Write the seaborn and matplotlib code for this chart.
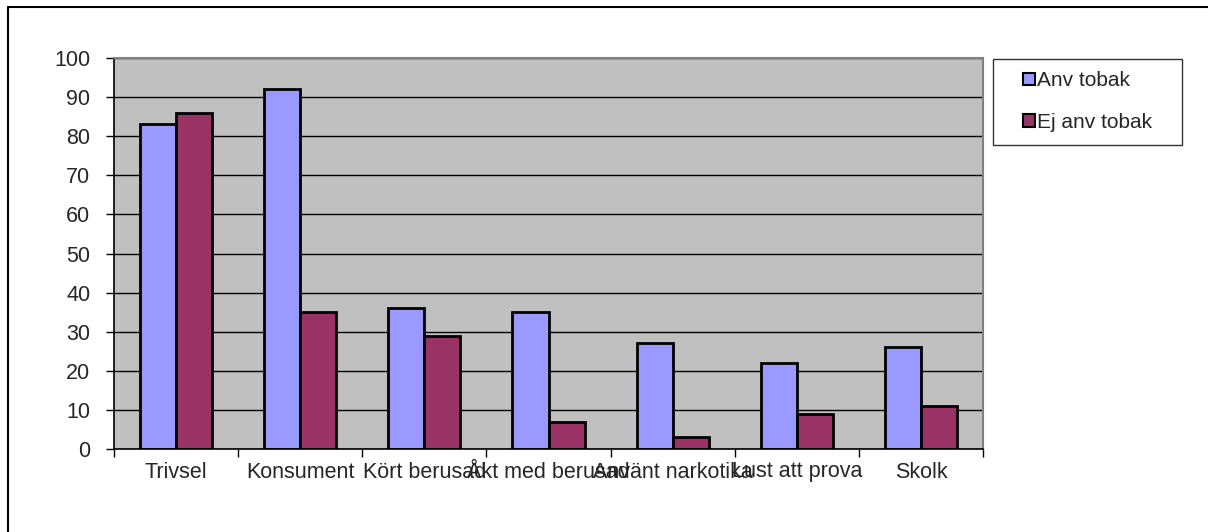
import matplotlib
matplotlib.use("Agg")
import matplotlib.pyplot as plt
import seaborn as sns
import pandas as pd
from matplotlib.lines import Line2D
from matplotlib.patches import Patch, Rectangle
from matplotlib.legend_handler import HandlerPatch

categories = ["Trivsel", "Konsument", "Kört berusad", "Åkt med berusad",
              "Använt narkotika", "Lust att prova", "Skolk"]
anv_tobak = [83, 92, 36, 35, 27, 22, 26]
ej_anv_tobak = [86, 35, 29, 7, 3, 9, 11]
series = ["Anv tobak", "Ej anv tobak"]
colors = ["#9999FF", "#993366"]

df = pd.DataFrame({
    "kategori": categories * 2,
    "grupp": [series[0]] * len(categories) + [series[1]] * len(categories),
    "varde": anv_tobak + ej_anv_tobak,
})

sns.set_style("white")
plt.rcParams["font.family"] = ["Liberation Sans", "DejaVu Sans"]

fig = plt.figure(figsize=(12.08, 5.32), dpi=100)
ax = fig.add_axes([114 / 1208, 83 / 532, 869 / 1208, 391 / 532])
ax.set_facecolor("#C0C0C0")

sns.barplot(data=df, x="kategori", y="varde", hue="grupp", order=categories,
            hue_order=series, palette=colors, width=0.58, edgecolor="black",
            linewidth=2, saturation=1, legend=False, ax=ax)

ax.set_ylim(0, 100)
ax.set_xlim(-0.5, len(categories) - 0.5)
ax.set_yticks(range(0, 101, 10))
ax.yaxis.grid(True, color="black", linewidth=1.0)
ax.set_axisbelow(True)
ax.set_xlabel("")
ax.set_ylabel("")

ax.tick_params(axis="y", direction="out", length=6, width=1, color="black",
               labelsize=15.5, pad=11, left=True)
ax.tick_params(axis="x", which="major", length=0, labelsize=15.5, pad=9)
ax.set_xticks([i - 0.5 for i in range(len(categories) + 1)], minor=True)
ax.tick_params(axis="x", which="minor", direction="out", length=6, width=1,
               color="black", bottom=True)

for s in ["left", "bottom"]:
    ax.spines[s].set_color("black")
    ax.spines[s].set_linewidth(1.2)
for s in ["top", "right"]:
    ax.spines[s].set_color("#808080")
    ax.spines[s].set_linewidth(1.5)


def small_square(legend, orig_handle, xdescent, ydescent, width, height, fontsize):
    # square sits at the right end of the handle box, next to the text
    return Rectangle((-xdescent + width - height, -ydescent), height, height)


handles = [Patch(facecolor=c, edgecolor="black", linewidth=1.5) for c in colors]
leg = fig.legend(handles, [s + "   " for s in series], loc="upper left",
                 bbox_to_anchor=(993 / 1208, 1 - 59 / 532), fontsize=15,
                 frameon=True, fancybox=False, edgecolor="black",
                 handlelength=1.42, handleheight=0.55, handletextpad=0.1,
                 labelspacing=1.08, borderpad=0.6, borderaxespad=0,
                 handler_map={Patch: HandlerPatch(patch_func=small_square)})
leg.get_frame().set_linewidth(1.0)

# outer frame of the embedded chart
fig.add_artist(Line2D([8 / 1208, 8 / 1208], [0, 1 - 7 / 532], color="black",
                      linewidth=1.5, transform=fig.transFigure))
fig.add_artist(Line2D([8 / 1208, 1], [1 - 7 / 532, 1 - 7 / 532], color="black",
                      linewidth=1.5, transform=fig.transFigure))

fig.savefig("out.png", dpi=100)
